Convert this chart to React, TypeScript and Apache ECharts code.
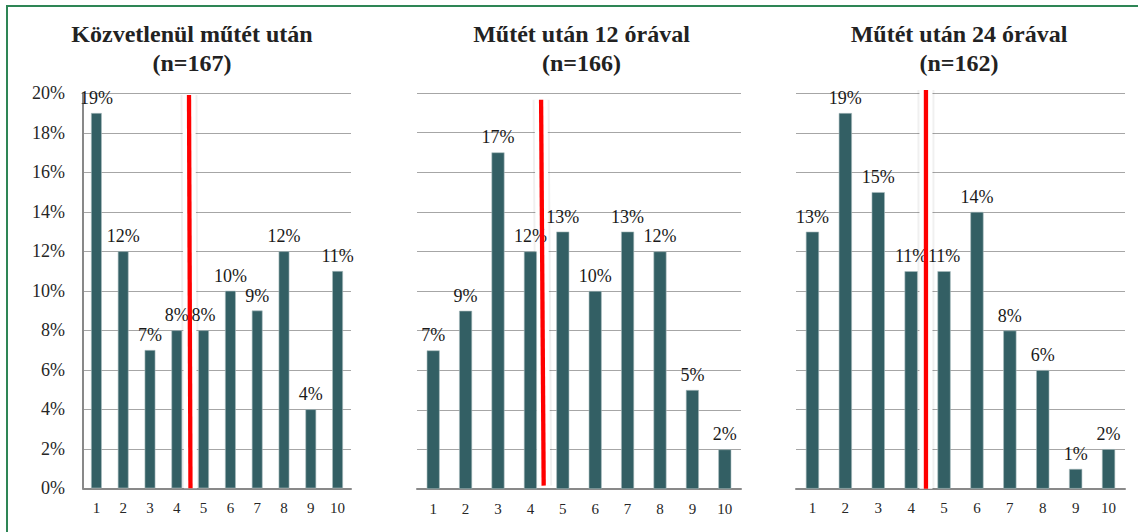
import React, { useEffect, useRef } from "react";
import * as echarts from "echarts";

const categories = ["1", "2", "3", "4", "5", "6", "7", "8", "9", "10"];
const panelTitles = ["Közvetlenül műtét után", "Műtét után 12 órával", "Műtét után 24 órával"];
const sampleSizes = ["(n=167)", "(n=166)", "(n=162)"];
const valuesImmediate = [19, 12, 7, 8, 8, 10, 9, 12, 4, 11];
const values12h = [7, 9, 17, 12, 13, 10, 13, 12, 5, 2];
const values24h = [13, 19, 15, 11, 11, 14, 8, 6, 1, 2];
const panelValues = [valuesImmediate, values12h, values24h];
// red divider line ends (category-space x, percent y)
const redBottomX = [4.51, 4.41, 4.45];
const redTopX = [4.455, 4.33, 4.45];
const redBottomY = [0, 0.17, 0];
const redTopY = [19.91, 19.66, 20.17];

const FONT = "Liberation Serif, serif";
const grids = [
  { left: 83, top: 93.3, width: 268, height: 395 },
  { left: 417, top: 93, width: 324, height: 396 },
  { left: 796, top: 93.3, width: 329, height: 395.4 },
];
const titleCenters = [192, 581.5, 959];

export default function App() {
  const ref = useRef<HTMLDivElement>(null);
  useEffect(() => {
    if (!ref.current) return;
    const chart = echarts.init(ref.current, null, { renderer: "svg" });
    const xAxes: any[] = [];
    const yAxes: any[] = [];
    const series: any[] = [];
    grids.forEach((_, i) => {
      xAxes.push({
        type: "category",
        gridIndex: i,
        data: categories,
        axisLine: { show: true, lineStyle: { color: "#898989", width: 2 } },
        axisTick: { show: false },
        axisLabel: { color: "#262626", fontFamily: FONT, fontSize: 15, margin: 12 },
      });
      yAxes.push({
        type: "value",
        gridIndex: i,
        min: 0,
        max: 20,
        interval: 2,
        axisLine: { show: i === 0, lineStyle: { color: "#898989", width: 2 } },
        axisTick: { show: false },
        axisLabel: {
          show: i === 0,
          formatter: "{value}%",
          color: "#262626",
          fontFamily: FONT,
          fontSize: 18,
          margin: 18,
        },
        splitLine: { show: true, lineStyle: { color: "#a6a6a6", width: 1 } },
      });
      series.push({
        type: "bar",
        xAxisIndex: i,
        yAxisIndex: i,
        data: panelValues[i],
        barWidth: "40%",
        itemStyle: { color: "#335f64", borderColor: "#a9bcbd", borderWidth: 0.6 },
        label: {
          show: true,
          position: "top",
          distance: 6,
          formatter: "{c}%",
          color: "#1a1a1a",
          fontFamily: FONT,
          fontSize: 18,
        },
        z: 3,
      });
    });
    const lineLayers = [
      { color: "rgba(0,0,0,0.06)", width: 17, z: 1 },
      { color: "#ffffff", width: 13, z: 2 },
      { color: "#ff0000", width: 4.3, z: 5 },
    ];
    grids.forEach((_, i) => {
      xAxes.push({ type: "value", gridIndex: i, min: 0.5, max: 10.5, show: false });
      lineLayers.forEach((layer) => {
        series.push({
          type: "line",
          xAxisIndex: 3 + i,
          yAxisIndex: i,
          data: [
            [redBottomX[i], redBottomY[i]],
            [redTopX[i], redTopY[i]],
          ],
          symbol: "none",
          clip: false,
          silent: true,
          lineStyle: { color: layer.color, width: layer.width, cap: "butt" },
          z: layer.z,
        });
      });
    });
    const graphics: any[] = [
      {
        type: "rect",
        shape: { x: 7, y: 6, width: 1140, height: 540 },
        style: { fill: "none", stroke: "#2e8555", lineWidth: 2 },
        silent: true,
      },
    ];
    titleCenters.forEach((cx, i) => {
      graphics.push({
        type: "text",
        x: cx,
        y: 19,
        style: {
          text: panelTitles[i] + "\n" + sampleSizes[i],
          font: `bold 24px ${FONT}`,
          fill: "#222222",
          textAlign: "center",
          textVerticalAlign: "top",
          lineHeight: 29,
        },
      });
    });
    chart.setOption({
      animation: false,
      backgroundColor: "#ffffff",
      grid: grids,
      xAxis: xAxes,
      yAxis: yAxes,
      series,
      graphic: graphics,
    });
    return () => chart.dispose();
  }, []);
  return (
    <div
      ref={ref}
      style={{ position: "absolute", left: 0, top: 0, width: 1138, height: 532 }}
    />
  );
}
